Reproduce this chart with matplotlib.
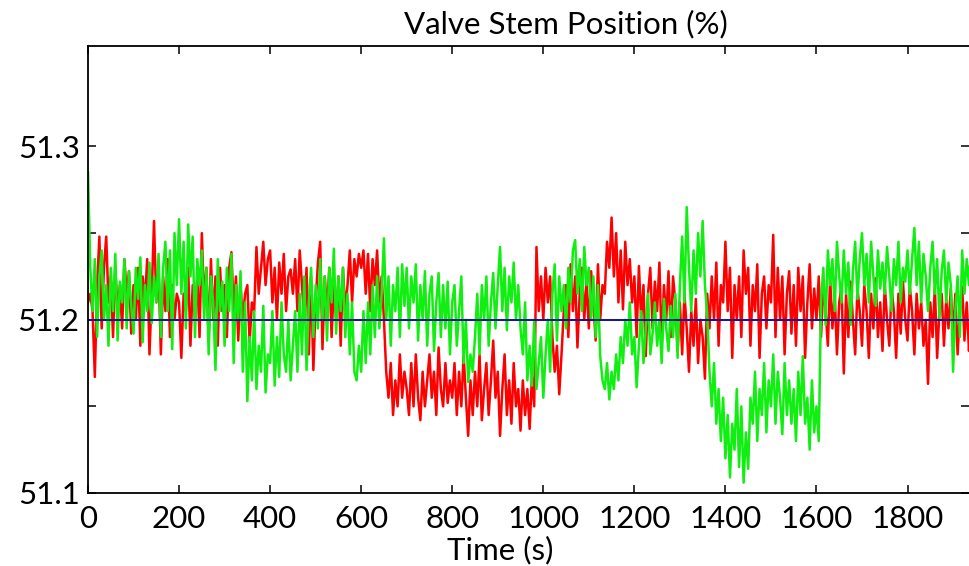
import numpy as np
import matplotlib
matplotlib.use("Agg")
import matplotlib.pyplot as plt

plt.rcParams['font.family'] = ['Lato', 'DejaVu Sans']

# sample times (s), one reading every 5 s
t = np.arange(0, 1950, 5)

setpoint = 51.2

# valve stem position, deviation from 51.2 in thousandths of a percent
red_dev = [
    10, 15, 5, -33, 20, 48, -5, 30, 48, 10,
    25, -10, 30, 5, 20, -5, 35, 15, 28, -8,
    20, 0, 30, -15, 25, 10, 35, -20, 15, 57,
    10, 30, -20, 25, 5, 35, -10, 20, 0, 15,
    10, -22, 15, 5, 30, -15, 20, 0, 25, -10,
    50, 10, 30, -12, 35, 0, 25, -15, 30, 5,
    20, -10, 30, 39, 5, 25, -12, 20, 0, 15,
    20, -13, 10, 5, 42, 15, 30, 45, 20, 35,
    40, 10, 30, 0, 33, 15, 38, 5, 25, 29,
    15, 35, 5, 40, 20, 0, 30, -20, 25, -29,
    10, 33, 45, -17, 25, 5, 30, -10, 20, 0,
    25, -15, 30, 5, 20, 40, 10, 35, 25, 38,
    30, 40, 15, 38, 5, 35, 20, 40, 10, 25,
    0, -30, -45, -25, -55, -35, -50, -20, -45, -30,
    -40, -55, -25, -50, -20, -45, -58, -30, -50, -35,
    -20, -45, -30, -55, -16, -40, -50, -25, -48, -35,
    -45, -25, -55, -30, -50, -20, -45, -67, -35, -55,
    -30, -50, -20, -58, -40, -25, -55, -35, -12, -45,
    -30, -67, -40, -20, -55, -35, -60, -25, -50, -40,
    -64, -35, -55, -40, -63, -33, -50, 42, 5, 25,
    0, 30, 10, 25, -10, -30, -15, -43, -20, 5,
    20, -10, 32, 5, 25, -16, 15, 30, 0, 22,
    -5, 28, 10, -12, 32, 0, 20, 15, 45, 30,
    59, 25, 50, 10, 40, 6, 45, 20, 35, 10,
    25, -10, 31, 0, 20, -21, 15, 30, -5, 22,
    5, 33, -15, 20, 0, 28, -10, 25, 10, -18,
    10, -20, 15, -5, -30, 5, -15, 12, -25, 0,
    -10, -34, 15, -5, 25, 0, 33, -15, 20, 10,
    45, 5, 30, -22, 20, 0, 25, -10, 40, 15,
    30, -15, 20, 5, 32, -22, 15, 25, -5, 20,
    10, 49, -10, 30, 0, 25, -20, 15, 28, -8,
    20, -15, 30, 5, 25, -22, 10, 32, -5, 18,
    0, 25, -10, 20, 5, -15, 24, -5, 15, -20,
    10, 20, -31, 15, -10, 22, 0, -20, 18, 5,
    -15, 20, 5, -22, 15, -5, 24, -10, 10, -18,
    20, 0, -15, 18, 5, -22, 15, -8, 22, 0,
    -12, 19, 5, -20, 15, -5, 10, -15, 0, -37,
    10, -10, 19, -22, 5, 15, -15, 12, -5, 18,
    -10, 15, -20, 5, 19, -12, 10, -18, 12, 0,
]

green_dev = [
    85, 30, 5, 35, -10, 25, 40, 0, 20, -15,
    30, 5, 38, -12, 22, 10, 35, -5, 28, 8,
    -8, 30, 12, 36, -13, 20, 5, 33, -2, 25,
    10, 38, -10, 30, 45, 5, 40, -17, 50, 20,
    58, 15, 45, -5, 55, 25, 48, -10, 35, 20,
    40, 0, 30, -20, 25, 10, -29, 35, 5, 22,
    -15, 30, 5, 38, -25, 20, 0, 28, -30, 10,
    -47, -10, -35, 5, -40, -15, -30, 8, -42, -20,
    -25, 5, -38, -10, -33, 10, -20, -30, 0, -35,
    -15, 5, -30, 15, -20, 25, -29, 10, 30, -10,
    20, -5, 35, 0, 25, -12, 30, 10, 41, -8,
    25, 5, 30, -10, 15, -20, 10, -30, -35, -15,
    -30, 5, -25, 10, -20, 20, -10, 25, -5, 15,
    47, 0, 25, -15, 20, 5, 30, -10, 32, 8,
    30, -5, 25, 10, 32, -12, 20, 0, 28, -15,
    15, 25, -18, 10, 27, -10, 20, -5, 22, -20,
    10, 20, -15, 5, 25, -25, 0, -36, -20, -30,
    -10, 15, -20, 20, 0, 25, -15, 10, 27, -5,
    20, 42, 5, 30, -6, 25, 10, 33, 0, 20,
    -5, -20, 10, -35, -15, -38, 0, -40, -25, -10,
    -45, -20, 0, -30, 15, 32, -12, 25, 5, 20,
    -5, 30, 10, 40, 46, 15, 35, 5, 42, 20,
    30, 0, 25, -10, 20, -21, -35, -40, -25, -46,
    -30, -40, -20, -35, -10, -25, 0, -15, 10, -20,
    -10, -39, -15, 5, -25, -5, 15, -20, -8, 10,
    -15, 0, -25, 12, -5, -18, 8, -10, 15, -22,
    20, 48, 10, 65, 30, 5, 40, 15, 50, 25,
    57, 20, 3, -30, -50, -25, -60, -40, -70, -45,
    -80, -55, -91, -60, -75, -40, -85, -50, -94, -65,
    -86, -45, -60, -30, -70, -40, -55, -25, -65, -35,
    -50, -20, -60, -30, -45, -66, -25, -55, -35, -60,
    -40, -70, -30, -55, -21, -60, -45, -75, -35, -65,
    -50, -70, 10, 30, -3, 40, 20, 35, 5, 45,
    25, 10, 40, 15, 33, -3, 28, 45, 12, 35,
    50, 20, 38, 10, 45, 25, 8, 40, 18, 33,
    15, 42, 25, 5, 35, 20, 45, 10, 30, 22,
    40, 15, 35, 53, 20, 45, 10, 38, 25, 5,
    30, 45, 15, 35, 1, 28, 40, 10, 33, 20,
    -30, 5, 25, -10, 40, 15, 35, 20, 45, 25,
]

red = setpoint + np.array(red_dev) / 1000.0
green = setpoint + np.array(green_dev) / 1000.0

fig = plt.figure(figsize=(9.69, 5.66), dpi=100)
ax = fig.add_axes([88 / 969, 1 - 493 / 566, 881 / 969, (493 - 46) / 566])

ax.plot(t, red, color='#ff0000', lw=1.8)
ax.plot(t, green, color='#11ee11', lw=1.8)
ax.axhline(setpoint, color='#10109a', lw=1.4)

ax.set_xlim(0, 1935)
ax.set_ylim(51.1, 51.358)
ax.set_xticks(np.arange(0, 1801, 200))
ax.set_yticks([51.1, 51.15, 51.2, 51.25, 51.3])
ax.set_yticklabels(['51.1', '', '51.2', '', '51.3'])

ax.tick_params(direction='in', length=6, width=1.1, top=True, right=True,
               labelsize=22.5)
ax.tick_params(axis='x', pad=9)
ax.tick_params(axis='y', pad=6)
for s in ax.spines.values():
    s.set_linewidth(1.3)
ax.spines['right'].set_visible(False)

# text positions follow the reference picture
ax.set_xlabel('Time (s)', fontsize=22.5)
ax.xaxis.set_label_coords((500 - 88) / 881, -(550 - 493) / 447, transform=ax.transAxes)
ax.xaxis.label.set_va('center')
ax.set_title('Valve Stem Position (%)', fontsize=22.5, x=(566 - 88) / 881, y=1 + (46 - 32) / 447, va='center')

fig.savefig('out.png', dpi=100)
